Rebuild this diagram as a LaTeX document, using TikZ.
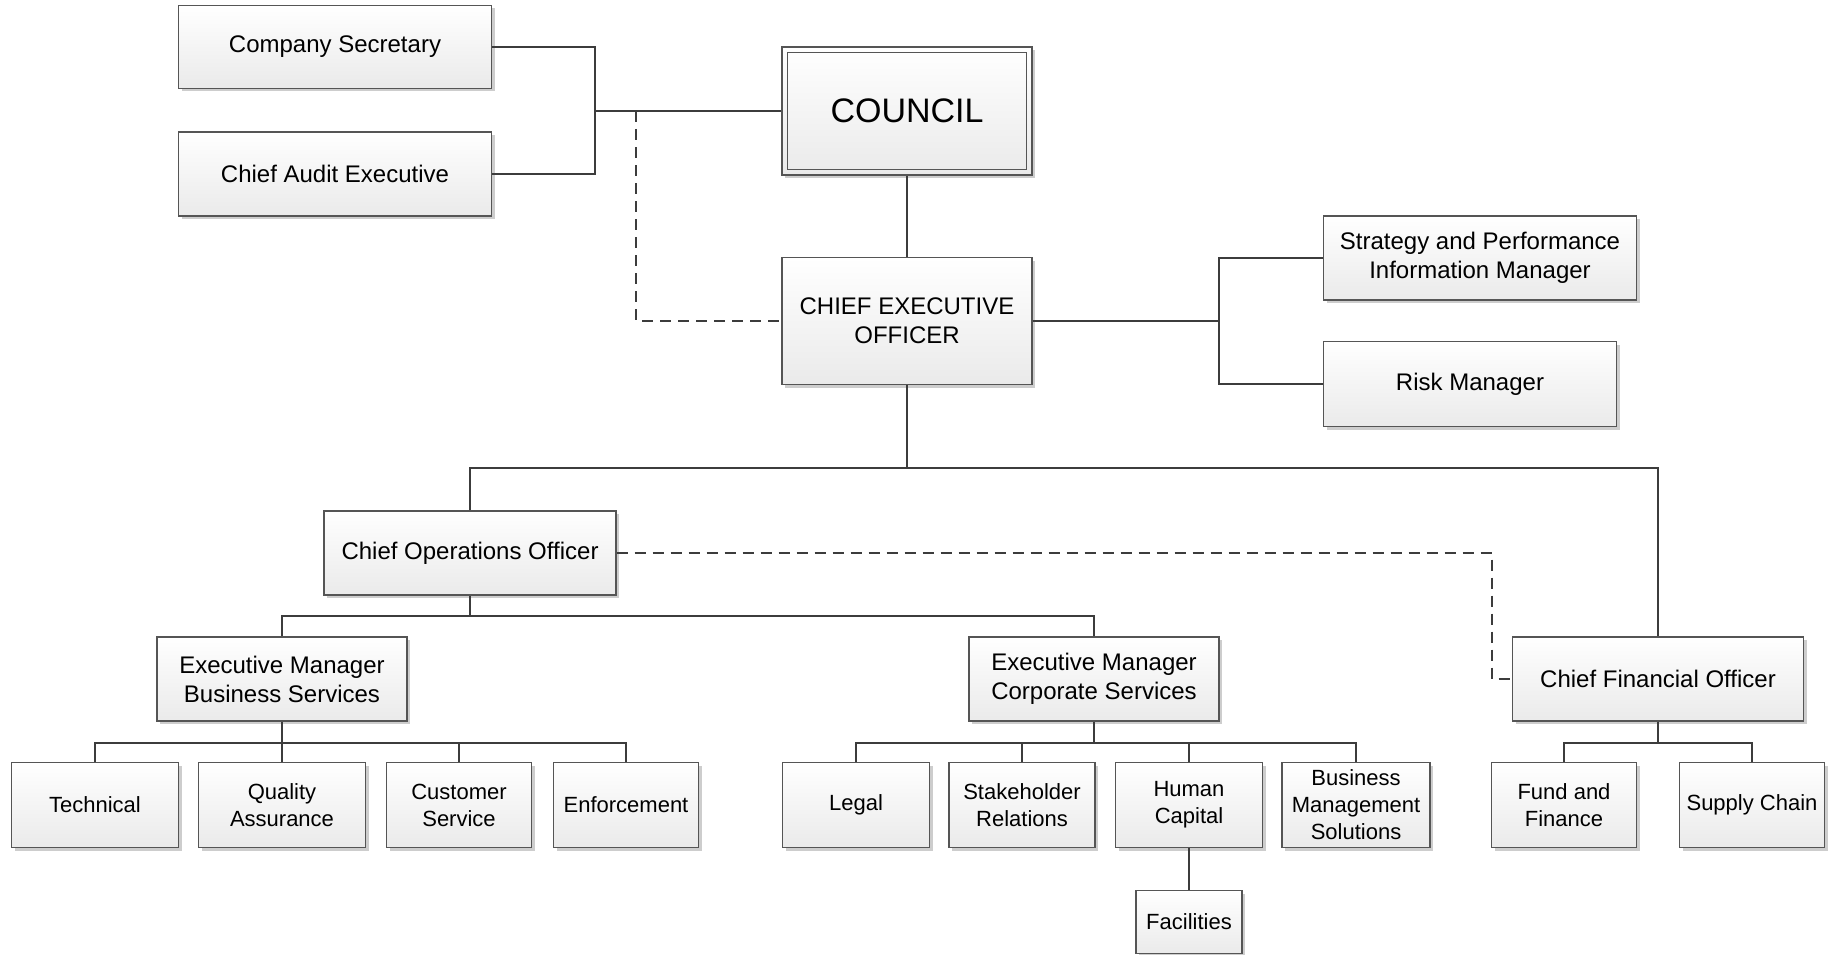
\documentclass[tikz,border=0pt]{standalone}
\usepackage{fontspec}
\setmainfont{Liberation Sans}
\usepackage{tikz}
\usetikzlibrary{shadows}
\definecolor{boxline}{RGB}{85,85,85}
\definecolor{linkcol}{RGB}{60,60,60}
\definecolor{boxfoot}{RGB}{234,234,234}
\definecolor{shade}{RGB}{205,205,205}

\begin{document}
\begin{tikzpicture}[x=1pt, y=-1pt,
        box/.style = {draw=boxline, line width=1.1pt, top color=white, bottom color=boxfoot,
                      drop shadow={shadow xshift=3pt, shadow yshift=-3pt, fill=shade, opacity=1},
                      align=center, inner sep=2pt, font=\fontsize{24}{29}\selectfont},
        small/.style = {box, font=\fontsize{22}{27}\selectfont},
        link/.style = {draw=linkcol, line width=1.6pt},
        dotlink/.style = {link, dash pattern=on 11pt off 7pt}]
    \useasboundingbox (0,0) rectangle (1833,955);

    % top level
    \node[box, minimum width=250pt, minimum height=128pt, font=\fontsize{34}{40}\selectfont] (council) at (907,111) {COUNCIL};
    \draw[boxline, line width=1.1pt] ([shift={(6,6)}]council.north west) rectangle ([shift={(-6,-6)}]council.south east);
    \node[box, minimum width=313pt, minimum height=83pt] (sec) at (335,47) {Company Secretary};
    \node[box, minimum width=313pt, minimum height=84pt] (audit) at (335,174) {Chief Audit Executive};
    \node[box, minimum width=250pt, minimum height=127pt] (ceo) at (907,321) {CHIEF EXECUTIVE\\OFFICER};
    \node[box, minimum width=313pt, minimum height=84pt] (strat) at (1480,258) {Strategy and Performance\\Information Manager};
    \node[box, minimum width=293pt, minimum height=85pt] (risk) at (1470,384) {Risk Manager};

    % second level
    \node[box, minimum width=292pt, minimum height=84pt] (coo) at (470,553) {Chief Operations Officer};
    \node[box, minimum width=291pt, minimum height=84pt] (cfo) at (1658,679) {Chief Financial Officer};
    \node[box, minimum width=250pt, minimum height=84pt] (embs) at (282,679) {Executive Manager\\Business Services};
    \node[box, minimum width=250pt, minimum height=84pt] (emcs) at (1094,679) {Executive Manager\\Corporate Services};

    % units
    \node[small, minimum width=167pt, minimum height=85pt] (tech) at (95,805) {Technical};
    \node[small, minimum width=167pt, minimum height=85pt] (qa) at (282,805) {Quality\\Assurance};
    \node[small, minimum width=145pt, minimum height=85pt] (cust) at (459,805) {Customer\\Service};
    \node[small, minimum width=145pt, minimum height=85pt] (enf) at (626,805) {Enforcement};
    \node[small, minimum width=147pt, minimum height=85pt] (legal) at (856,805) {Legal};
    \node[small, minimum width=146pt, minimum height=85pt] (stake) at (1022,805) {Stakeholder\\Relations};
    \node[small, minimum width=147pt, minimum height=85pt] (human) at (1189,805) {Human\\Capital};
    \node[small, minimum width=148pt, minimum height=85pt] (bms) at (1356,805) {Business\\Management\\Solutions};
    \node[small, minimum width=106pt, minimum height=63pt] (fac) at (1189,922) {Facilities};
    \node[small, minimum width=145pt, minimum height=85pt] (fund) at (1564,805) {Fund and\\Finance};
    \node[small, minimum width=145pt, minimum height=85pt] (supply) at (1752,805) {Supply Chain};

    % junctions
    \coordinate (jl) at (595,111);
    \coordinate (dl) at (636,111);
    \coordinate (jr) at (1219,321);
    \coordinate (bus1) at (907,468);
    \coordinate (bus2) at (470,616);
    \coordinate (dr) at (1492,553);
    \coordinate (bus3) at (282,743);
    \coordinate (bus4) at (1094,743);
    \coordinate (bus5) at (1658,743);

    \draw[link] (sec.east) -| (jl) |- (audit.east);
    \draw[link] (jl) -- (council.west);
    \draw[dotlink] (dl) |- (ceo.west);
    \draw[link] (council.south) -- (ceo.north);
    \draw[link] (ceo.east) -- (jr);
    \draw[link] (strat.west) -| (jr) |- (risk.west);
    \draw[link] (ceo.south) -- (bus1);
    \draw[link] (coo.north) |- (bus1);
    \draw[link] (cfo.north) |- (bus1);
    \draw[dotlink] (coo.east) -- (dr) |- (cfo.west);
    \draw[link] (coo.south) -- (bus2);
    \draw[link] (embs.north) |- (bus2);
    \draw[link] (emcs.north) |- (bus2);
    \draw[link] (embs.south) -- (bus3);
    \draw[link] (tech.north) |- (bus3);
    \draw[link] (qa.north) |- (bus3);
    \draw[link] (cust.north) |- (bus3);
    \draw[link] (enf.north) |- (bus3);
    \draw[link] (emcs.south) -- (bus4);
    \draw[link] (legal.north) |- (bus4);
    \draw[link] (stake.north) |- (bus4);
    \draw[link] (human.north) |- (bus4);
    \draw[link] (bms.north) |- (bus4);
    \draw[link] (human.south) -- (fac.north);
    \draw[link] (cfo.south) -- (bus5);
    \draw[link] (fund.north) |- (bus5);
    \draw[link] (supply.north) |- (bus5);
\end{tikzpicture}
\end{document}
